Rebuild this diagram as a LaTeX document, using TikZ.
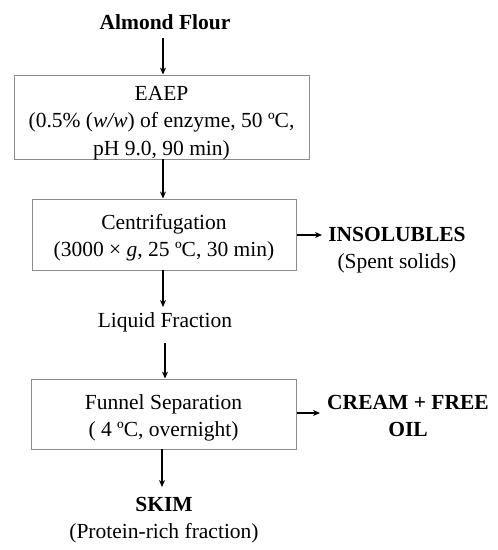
\documentclass[tikz,border=0pt]{standalone}
\usepackage{fontspec}
\setmainfont{Liberation Serif}
\usetikzlibrary{arrows.meta}
\begin{document}
\begin{tikzpicture}[x=1pt,y=-1pt,
  every node/.style={font=\fontsize{21.5}{27.5}\selectfont, inner sep=0pt, align=center},
  procbox/.style={draw=black!45, line width=1pt, anchor=center},
  flow/.style={line width=1.6pt, -{Stealth[length=7pt,width=6pt]}}]
\useasboundingbox (0,0) rectangle (498,550);
\node[font=\fontsize{21.5}{27.5}\selectfont\bfseries] (flour) at (165,22) {Almond Flour};
\node[procbox, minimum width=295pt, minimum height=84pt,
  label={[yshift=-6pt]center:{EAEP\\(0.5\% (\textit{w/w}) of enzyme, 50 ºC,\\pH 9.0, 90 min)}}]
  (eaep) at (161.5,117) {};
\node[procbox, minimum width=264pt, minimum height=71pt,
  label={[yshift=-3pt]center:{Centrifugation\\(3000 × \textit{g}, 25 ºC, 30 min)}}]
  (cent) at (164,234.5) {};
\node (insol) at (397,250) {\textbf{INSOLUBLES}\\(Spent solids)};
\node (liq) at (165,322) {Liquid Fraction};
\node[procbox, minimum width=265pt, minimum height=70pt,
  label={[yshift=-4pt]center:{Funnel Separation\\( 4 ºC, overnight)}}]
  (fun) at (163.5,414) {};
\node[font=\fontsize{21.5}{27.5}\selectfont\bfseries] (cream) at (408,416) {CREAM + FREE\\OIL};
\node (skim) at (164,520) {\textbf{SKIM}\\(Protein-rich fraction)};
\coordinate (a1) at (163,38);
\coordinate (a2) at (163,159);
\coordinate (a3) at (163,270);
\coordinate (a4) at (165,343);
\coordinate (a5) at (162,449);
\coordinate (i1) at (322,235);
\coordinate (c1) at (320,413);
\draw[flow] (a1) -- (a1 |- eaep.north);
\draw[flow] (a2) -- (a2 |- cent.north);
\draw[flow] (a3) -- (163,307);
\draw[flow] (a4) -- (a4 |- fun.north);
\draw[flow] (a5) -- (162,487);
\draw[flow] (cent.east |- i1) -- (i1);
\draw[flow] (fun.east |- c1) -- (c1);
\end{tikzpicture}
\end{document}
